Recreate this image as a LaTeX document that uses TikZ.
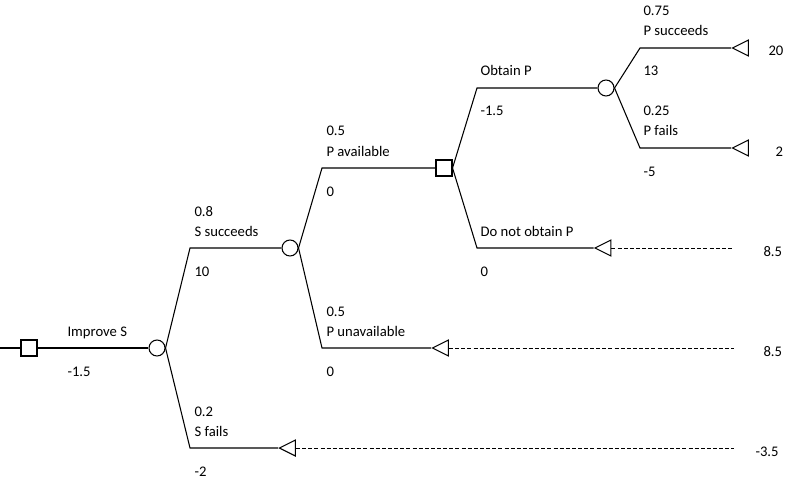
\documentclass[tikz,border=0pt]{standalone}
\usepackage{fontspec}
\setmainfont{Carlito}
\usetikzlibrary{shapes.geometric}

\begin{document}
\begin{tikzpicture}[x=0.75pt,y=-0.75pt,line width=0.8pt,
  chance/.style={circle,draw,minimum size=12pt,inner sep=0pt},
  decision/.style={rectangle,draw,minimum size=12pt,inner sep=0pt},
  leaf/.style={isosceles triangle,draw,shape border rotate=180,isosceles triangle stretches,
    minimum width=12pt,minimum height=12pt,inner sep=0pt},
  lab/.style={font=\fontsize{11}{13}\selectfont,anchor=base west,inner sep=0pt},
  tail/.style={dash pattern=on 3pt off 1.6pt,line width=0.75pt}]
  \useasboundingbox (0,0) rectangle (787,481);
  \coordinate (s0) at (0,348);
  \node[decision] (d1) at (29,348) {};
  \node[chance] (c1) at (157,348) {};
  \node[chance] (c2) at (290,248) {};
  \node[decision] (d2) at (444,168) {};
  \node[chance] (c3) at (606,88) {};
  \node[leaf] (t1) at (743.5,48) {};
  \node[leaf] (t2) at (743.5,148) {};
  \node[leaf] (t3) at (606,248) {};
  \node[leaf] (t4) at (443.5,348) {};
  \node[leaf] (t5) at (290.5,448) {};
  \coordinate (b1u) at (190,248);
  \coordinate (b1d) at (190,448);
  \coordinate (b2u) at (322,168);
  \coordinate (b2d) at (322,348);
  \coordinate (b3u) at (477,88);
  \coordinate (b3d) at (477,248);
  \coordinate (b4u) at (640,48);
  \coordinate (b4d) at (640,148);
  \coordinate (e3) at (734,248);
  \coordinate (e4) at (734,348);
  \coordinate (e5) at (734,448);
  \draw (s0) -- (d1) -- (c1);
  \draw (c1.east) -- (b1u) -- (c2);
  \draw (c1.east) -- (b1d) -- (t5);
  \draw (c2.east) -- (b2u) -- (d2);
  \draw (c2.east) -- (b2d) -- (t4);
  \draw (d2.east) -- (b3u) -- (c3);
  \draw (d2.east) -- (b3d) -- (t3);
  \draw (c3.east) -- (b4u) -- (t1);
  \draw (c3.east) -- (b4d) -- (t2);
  \draw[tail] (t3) -- (e3);
  \draw[tail] (t4) -- (e4);
  \draw[tail] (t5) -- (e5);
  \node[lab] (l1) at (67,336) {Improve S};
  \node[lab] (v1) at (67,376) {-1.5};
  \node[lab] (p2) at (194,216) {0.8};
  \node[lab] (l2) at (194,236) {S succeeds};
  \node[lab] (v2) at (194,276) {10};
  \node[lab] (p3) at (194,416) {0.2};
  \node[lab] (l3) at (194,436) {S fails};
  \node[lab] (v3) at (194,476) {-2};
  \node[lab] (p4) at (326,136) {0.5};
  \node[lab] (l4) at (326,156) {P available};
  \node[lab] (v4) at (326,196) {0};
  \node[lab] (p5) at (326,316) {0.5};
  \node[lab] (l5) at (326,336) {P unavailable};
  \node[lab] (v5) at (326,376) {0};
  \node[lab] (l6) at (480,76) {Obtain P};
  \node[lab] (v6) at (480,116) {-1.5};
  \node[lab] (l7) at (480,236) {Do not obtain P};
  \node[lab] (v7) at (480,276) {0};
  \node[lab] (p8) at (643,16) {0.75};
  \node[lab] (l8) at (643,36) {P succeeds};
  \node[lab] (v8) at (643,76) {13};
  \node[lab] (p9) at (643,116) {0.25};
  \node[lab] (l9) at (643,136) {P fails};
  \node[lab] (v9) at (643,176) {-5};
  \node[lab] (r1) at (768,56) {20};
  \node[lab] (r2) at (775,156) {2};
  \node[lab] (r3) at (763,256) {8.5};
  \node[lab] (r4) at (763,356) {8.5};
  \node[lab] (r5) at (755,456) {-3.5};
\end{tikzpicture}
\end{document}
